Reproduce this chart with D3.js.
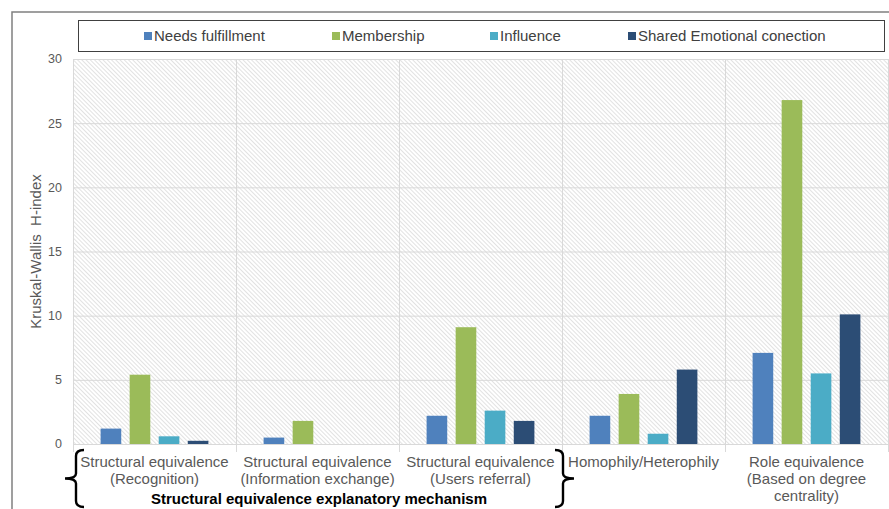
<!DOCTYPE html>
<html>
<head>
<meta charset="utf-8">
<script src="https://cdn.jsdelivr.net/npm/d3@7"></script>
<style>
  body { margin: 0; background: #fff; }
  svg { display: block; font-family: "Liberation Sans", Arial, sans-serif; }
</style>
</head>
<body>
<div id="chart"></div>
<script>
var categories = [
  ['Structural equivalence', '(Recognition)'],
  ['Structural equivalence', '(Information exchange)'],
  ['Structural equivalence', '(Users referral)'],
  ['Homophily/Heterophily'],
  ['Role equivalence', '(Based on degree', 'centrality)']
];
var seriesNames = ['Needs fulfillment', 'Membership', 'Influence', 'Shared Emotional conection'];
var needs = [1.2, 0.5, 2.2, 2.2, 7.1];
var membership = [5.4, 1.8, 9.1, 3.9, 26.8];
var influence = [0.6, 0, 2.6, 0.8, 5.5];
var shared = [0.25, 0, 1.8, 5.8, 10.1];
var yTicks = [0, 5, 10, 15, 20, 25, 30];
var colors = ['#4f81bd', '#9bbb59', '#4bacc6', '#2c4d75'];

var W = 889, H = 509,
    m = {left: 73, right: 1, top: 59, bottom: 65};

var svg = d3.select('#chart').append('svg').attr('width', W).attr('height', H);

// hatch pattern
var pat = svg.append('defs').append('pattern')
  .attr('id', 'hatch').attr('patternUnits', 'userSpaceOnUse')
  .attr('width', 3).attr('height', 3)
  .attr('patternTransform', 'rotate(-45)');
pat.append('rect').attr('width', 3).attr('height', 3).attr('fill', '#fff');
pat.append('line').attr('x1', 0.5).attr('y1', 0).attr('x2', 0.5).attr('y2', 3)
  .attr('stroke', '#e2e2e2').attr('stroke-width', 1);

var x = d3.scaleBand().domain(d3.range(categories.length))
  .range([m.left, W - m.right]);
var xs = d3.scaleBand().domain(d3.range(seriesNames.length))
  .range([0, x.bandwidth()]).paddingInner(0.29).paddingOuter(0.95);
var y = d3.scaleLinear().domain([0, 30]).range([H - m.bottom, m.top]);

// outer frame
svg.append('path').attr('d', 'M12,509 V12 H889')
  .attr('fill', 'none').attr('stroke', '#808080').attr('stroke-width', 1.5);

// plot background
svg.append('rect').attr('x', m.left).attr('y', m.top)
  .attr('width', W - m.right - m.left).attr('height', y(0) - m.top)
  .attr('fill', 'url(#hatch)');

// gridlines
svg.append('g').selectAll('line').data(yTicks).enter().append('line')
  .attr('x1', m.left).attr('x2', W - m.right)
  .attr('y1', function(d){ return y(d) + 0.5; }).attr('y2', function(d){ return y(d) + 0.5; })
  .attr('stroke', '#d9d9d9').attr('stroke-width', 1);

// category separators
var seps = d3.range(categories.length + 1).map(function(i){ return m.left + i * x.bandwidth(); });
svg.append('g').selectAll('line').data(seps).enter().append('line')
  .attr('x1', function(d){ return Math.round(d) + 0.5; }).attr('x2', function(d){ return Math.round(d) + 0.5; })
  .attr('y1', m.top).attr('y2', y(0) + 8)
  .attr('stroke', '#d9d9d9').attr('stroke-width', 1);

// y axis labels
svg.append('g').selectAll('text').data(yTicks).enter().append('text')
  .attr('x', 62).attr('y', function(d){ return y(d); }).attr('dy', '0.35em')
  .attr('text-anchor', 'end').attr('font-size', 12.5).attr('fill', '#595959')
  .text(function(d){ return d; });

svg.append('text')
  .attr('transform', 'translate(41,' + ((y(0) + y(30)) / 2) + ') rotate(-90)')
  .attr('text-anchor', 'middle').attr('font-size', 15).attr('fill', '#595959')
  .text('Kruskal-Wallis \u00a0H-index');

// bars
var series = [needs, membership, influence, shared];
var rows = [];
series.forEach(function(vals, s){
  vals.forEach(function(v, c){ rows.push({s: s, c: c, v: v}); });
});
svg.append('g').selectAll('rect').data(rows.filter(function(d){ return d.v > 0; }))
  .enter().append('rect')
  .attr('x', function(d){ return x(d.c) + xs(d.s); })
  .attr('width', xs.bandwidth())
  .attr('y', function(d){ return y(d.v); })
  .attr('height', function(d){ return y(0) - y(d.v); })
  .attr('fill', function(d){ return colors[d.s]; });

// category labels
var cl = svg.append('g').selectAll('text').data(categories).enter().append('text')
  .attr('text-anchor', 'middle').attr('font-size', 15).attr('fill', '#595959')
  .attr('x', function(d, i){ return x(i) + x.bandwidth() / 2; })
  .attr('y', 467);
cl.selectAll('tspan').data(function(d){ return d; }).enter().append('tspan')
  .attr('x', function(){ return d3.select(this.parentNode).attr('x'); })
  .attr('dy', function(d, i){ return i ? 17 : 0; })
  .text(function(d){ return d; });

// braces
function brace(x0, dir){
  var top = 450, bot = 507, mid = (top + bot) / 2, w = 8 * dir, p = 11 * dir;
  return 'M' + (x0 + w) + ',' + top +
    ' Q' + x0 + ',' + top + ' ' + x0 + ',' + (top + 6) +
    ' V' + (mid - 5) +
    ' Q' + x0 + ',' + mid + ' ' + (x0 - p) + ',' + mid +
    ' Q' + x0 + ',' + mid + ' ' + x0 + ',' + (mid + 5) +
    ' V' + (bot - 6) +
    ' Q' + x0 + ',' + bot + ' ' + (x0 + w) + ',' + bot;
}
svg.append('path').attr('d', brace(76, 1))
  .attr('fill', 'none').attr('stroke', '#000').attr('stroke-width', 2.4);
svg.append('path').attr('d', brace(563, -1))
  .attr('fill', 'none').attr('stroke', '#000').attr('stroke-width', 2.4);
svg.append('text').attr('x', 319).attr('y', 504).attr('text-anchor', 'middle')
  .attr('font-size', 15).attr('font-weight', 'bold').attr('fill', '#000')
  .text('Structural equivalence explanatory mechanism');

// legend
svg.append('rect').attr('x', 78.5).attr('y', 20.5).attr('width', 806).attr('height', 31)
  .attr('fill', '#fff').attr('stroke', '#404040').attr('stroke-width', 1);
var legX = [144, 332, 490, 628];
var lg = svg.append('g').selectAll('g').data(seriesNames).enter().append('g')
  .attr('transform', function(d, i){ return 'translate(' + legX[i] + ',36)'; });
lg.append('rect').attr('x', 0).attr('y', -4).attr('width', 8).attr('height', 8)
  .attr('fill', function(d, i){ return colors[i]; });
lg.append('text').attr('x', 10).attr('dy', '0.35em').attr('font-size', 15).attr('fill', '#404040')
  .text(function(d){ return d; });
</script>
</body>
</html>
